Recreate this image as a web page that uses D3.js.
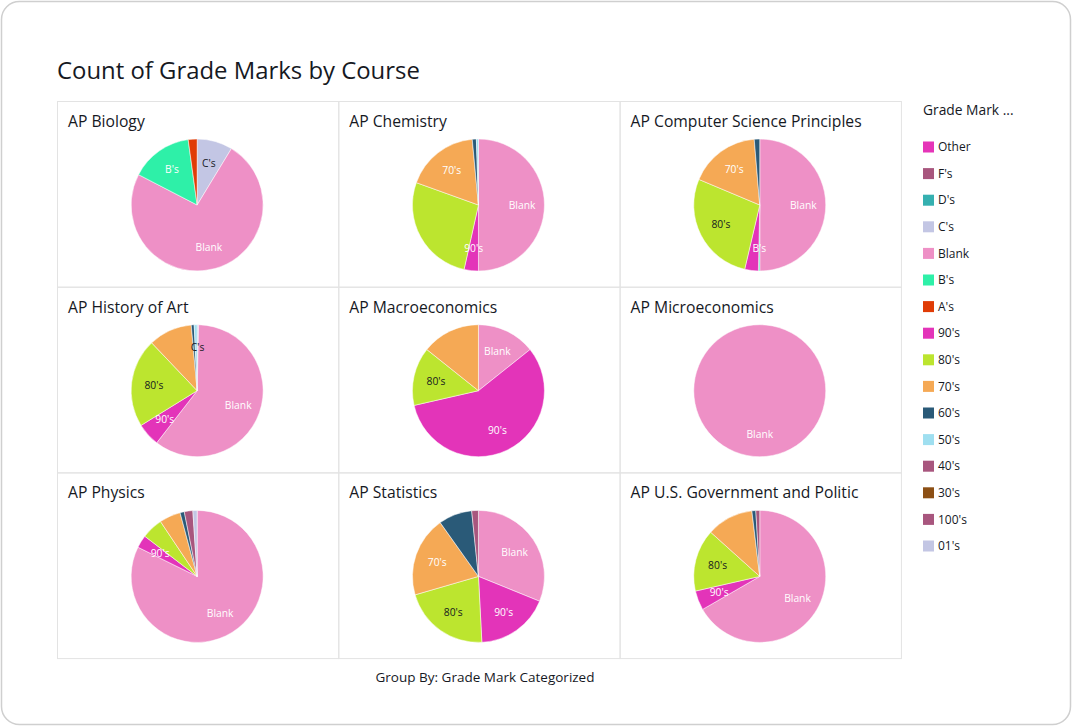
<!DOCTYPE html>
<html>
<head>
<meta charset="utf-8">
<script src="https://cdn.jsdelivr.net/npm/d3@7"></script>
<style>
  html, body { margin: 0; padding: 0; background: #fff; }
  svg { display: block; font-family: "Open Sans", "Noto Sans", sans-serif; }
</style>
</head>
<body>
<svg id="chart" width="1072" height="726"></svg>
<script>
// ---- Data ----
const title = "Count of Grade Marks by Course";
const footer = "Group By: Grade Mark Categorized";
const legendTitle = "Grade Mark ...";
const categories = ["Other", "F's", "D's", "C's", "Blank", "B's", "A's", "90's", "80's", "70's", "60's", "50's", "40's", "30's", "100's", "01's"];
const categoryColors = ["#e535b8", "#a8567e", "#35b0b0", "#c3c6e4", "#ee90c6", "#2ef0a8", "#e03c06", "#e334b9", "#bce52f", "#f5a955", "#2a5a78", "#9fdff0", "#a8567e", "#8c4f14", "#a8567e", "#c3c6e4"];
const darkLabelCats = ["C's", "80's"];

const courses = ["AP Biology", "AP Chemistry", "AP Computer Science Principles",
                 "AP History of Art", "AP Macroeconomics", "AP Microeconomics",
                 "AP Physics", "AP Statistics", "AP U.S. Government and Politic"];

// counts per course, keyed by category
const apBiology     = {"C's": 4, "Blank": 34, "B's": 7, "A's": 1};
const apChemistry   = {"Blank": 100, "90's": 7, "80's": 54, "70's": 36, "60's": 2, "50's": 1};
const apCSP         = {"Blank": 150, "B's": 1, "90's": 10, "80's": 83, "70's": 52, "60's": 4};
const apHistoryArt  = {"C's": 1, "Blank": 169, "90's": 16, "80's": 61, "70's": 30, "60's": 2, "50's": 2};
const apMacro       = {"Blank": 1, "90's": 4, "80's": 1, "70's": 1};
const apMicro       = {"Blank": 1};
const apPhysics     = {"Blank": 79, "90's": 3, "80's": 5, "70's": 5, "60's": 1, "40's": 2, "01's": 1};
const apStatistics  = {"Blank": 19, "90's": 11, "80's": 13, "70's": 12, "60's": 5, "40's": 1};
const apUSGov       = {"Blank": 70, "90's": 5, "80's": 16, "70's": 12, "60's": 1, "40's": 1};
const courseValues = [apBiology, apChemistry, apCSP, apHistoryArt, apMacro, apMicro, apPhysics, apStatistics, apUSGov];

// which slices show a label in each panel
const courseLabels = [
  ["C's", "Blank", "B's"],
  ["Blank", "90's", "70's"],
  ["Blank", "B's", "80's", "70's"],
  ["C's", "Blank", "90's", "80's"],
  ["Blank", "90's", "80's"],
  ["Blank"],
  ["Blank", "90's"],
  ["Blank", "90's", "80's", "70's"],
  ["Blank", "90's", "80's"]
];

// ---- Drawing ----
const svg = d3.select("#chart");
const color = d3.scaleOrdinal().domain(categories).range(categoryColors);

// card
svg.append("rect").attr("x", 1.5).attr("y", 1.5).attr("width", 1069).attr("height", 723)
  .attr("rx", 18).attr("fill", "#fff").attr("stroke", "#cfcfcf").attr("stroke-width", 1.5);

svg.append("text").attr("x", 57).attr("y", 79).attr("font-size", 23.9).attr("fill", "#16191f")
  .text(title);

const gridX = 57, gridY = 101, cellW = 281.3, cellH = 185.7;
const radius = 66;
const pie = d3.pie().sort(null).value(d => d.value);
const arc = d3.arc().innerRadius(0).outerRadius(radius);
const labelArc = d3.arc().innerRadius(radius * 0.66).outerRadius(radius * 0.66);

courses.forEach((course, i) => {
  const col = i % 3, row = Math.floor(i / 3);
  const x0 = gridX + col * cellW, y0 = gridY + row * cellH;
  const g = svg.append("g").attr("transform", `translate(${x0},${y0})`);
  g.append("rect").attr("x", 0.5).attr("y", 0.5).attr("width", cellW).attr("height", cellH)
    .attr("fill", "none").attr("stroke", "#e3e3e3").attr("stroke-width", 1);
  g.append("text").attr("x", 11).attr("y", 26).attr("font-size", 15.7).attr("fill", "#16191f")
    .text(course);

  const vals = courseValues[i];
  const data = categories.filter(c => vals[c] !== undefined).map(c => ({cat: c, value: vals[c]}));
  const pg = g.append("g").attr("transform", `translate(${cellW / 2 - 0.5},${104})`);
  const arcs = pie(data);
  pg.selectAll("path").data(arcs).join("path")
    .attr("d", arc).attr("fill", d => color(d.data.cat))
    .attr("stroke", "#fff").attr("stroke-width", 0.5);
  const labs = courseLabels[i];
  pg.selectAll("text").data(arcs.filter(d => labs.includes(d.data.cat))).join("text")
    .attr("transform", d => `translate(${labelArc.centroid(d)})`)
    .attr("text-anchor", "middle").attr("dy", "0.35em")
    .attr("font-size", 10.3)
    .attr("fill", d => darkLabelCats.includes(d.data.cat) ? "#16191f" : "#ffffff")
    .text(d => d.data.cat);
});

svg.append("text").attr("x", 485).attr("y", 682).attr("text-anchor", "middle")
  .attr("font-size", 13.5).attr("fill", "#16191f").text(footer);

// legend
const lg = svg.append("g");
lg.append("text").attr("x", 923).attr("y", 115).attr("font-size", 13.8).attr("fill", "#16191f")
  .text(legendTitle);
const ly = d3.scalePoint().domain(categories).range([147, 546]);
const items = lg.selectAll("g.item").data(categories).join("g").attr("class", "item")
  .attr("transform", c => `translate(923,${ly(c)})`);
items.append("rect").attr("x", 0).attr("y", -5.5).attr("width", 11).attr("height", 11)
  .attr("fill", c => color(c));
items.append("text").attr("x", 15).attr("y", 0).attr("dy", "0.35em")
  .attr("font-size", 12).attr("fill", "#16191f").text(c => c);
</script>
</body>
</html>
